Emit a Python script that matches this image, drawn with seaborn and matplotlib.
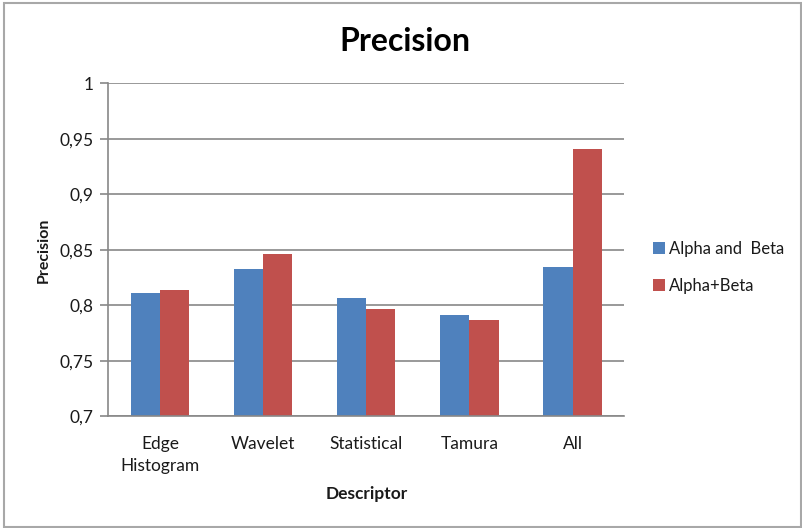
import matplotlib
matplotlib.use("Agg")
import matplotlib.pyplot as plt
from matplotlib.patches import Rectangle
import seaborn as sns
import pandas as pd

# Data
descriptors = ["Edge\nHistogram", "Wavelet", "Statistical", "Tamura", "All"]
series_names = ["Alpha and  Beta", "Alpha+Beta"]
alpha_and_beta = [0.811, 0.833, 0.807, 0.791, 0.835]
alpha_plus_beta = [0.814, 0.846, 0.797, 0.787, 0.941]
y_ticks = [0.7, 0.75, 0.8, 0.85, 0.9, 0.95, 1.0]
y_tick_labels = ["0,7", "0,75", "0,8", "0,85", "0,9", "0,95", "1"]

colors = ["#4F81BD", "#C0504D"]
grid_color = "#888888"
text_color = "#1a1a1a"

df = pd.DataFrame({
    "Descriptor": descriptors * 2,
    "Precision": alpha_and_beta + alpha_plus_beta,
    "Series": [series_names[0]] * len(descriptors) + [series_names[1]] * len(descriptors),
})

sns.set_theme(style="white")
plt.rcParams["font.family"] = ["Lato", "DejaVu Sans"]

fig = plt.figure(figsize=(8.02, 5.28), dpi=100)
ax = fig.add_axes([0.1352, 0.2112, 0.643, 0.6307])

sns.barplot(data=df, x="Descriptor", y="Precision", hue="Series",
            palette=colors, width=0.565, saturation=1, ax=ax,
            edgecolor="none", linewidth=0, legend=True)

ax.set_ylim(0.7, 1.0)
ax.set_xlim(-0.5, len(descriptors) - 0.5)
ax.set_yticks(y_ticks)
ax.set_yticklabels(y_tick_labels)
ax.yaxis.grid(True, color=grid_color, linewidth=1.2)
ax.set_axisbelow(True)

for side in ["top", "right"]:
    ax.spines[side].set_visible(False)
for side in ["left", "bottom"]:
    ax.spines[side].set_color(grid_color)
    ax.spines[side].set_linewidth(1.2)

ax.tick_params(axis="y", which="major", left=True, length=6, width=1.2,
               color=grid_color, labelsize=12.5, labelcolor=text_color, pad=5)
ax.tick_params(axis="x", which="major", bottom=False, labelsize=12.5,
               labelcolor=text_color, pad=8)
for lbl in ax.get_xticklabels():
    lbl.set_linespacing(1.45)

ax.set_xlabel("Descriptor", fontsize=12.5, fontweight="bold", color=text_color, labelpad=9)
ax.set_ylabel("Precision", fontsize=11.5, fontweight="bold", color=text_color, labelpad=6)

fig.suptitle("Precision", x=0.505, y=0.922, va="center", fontsize=23,
             fontweight="bold", color="#000000")

handles, labels = ax.get_legend_handles_labels()
ax.legend(handles, labels, loc="center left", bbox_to_anchor=(0.8142, 0.494),
          bbox_transform=fig.transFigure, frameon=False, fontsize=12,
          handlelength=0.75, handleheight=0.75, handletextpad=0.2,
          labelspacing=1.25, borderpad=0, borderaxespad=0,
          labelcolor=text_color)

# Chart frame
fig.patches.append(Rectangle((4 / 802, 1 / 528), 797 / 802, 524 / 528,
                             transform=fig.transFigure, fill=False,
                             edgecolor="#a8a8a8", linewidth=1.5))

fig.savefig("out.png", dpi=100, facecolor="white")
